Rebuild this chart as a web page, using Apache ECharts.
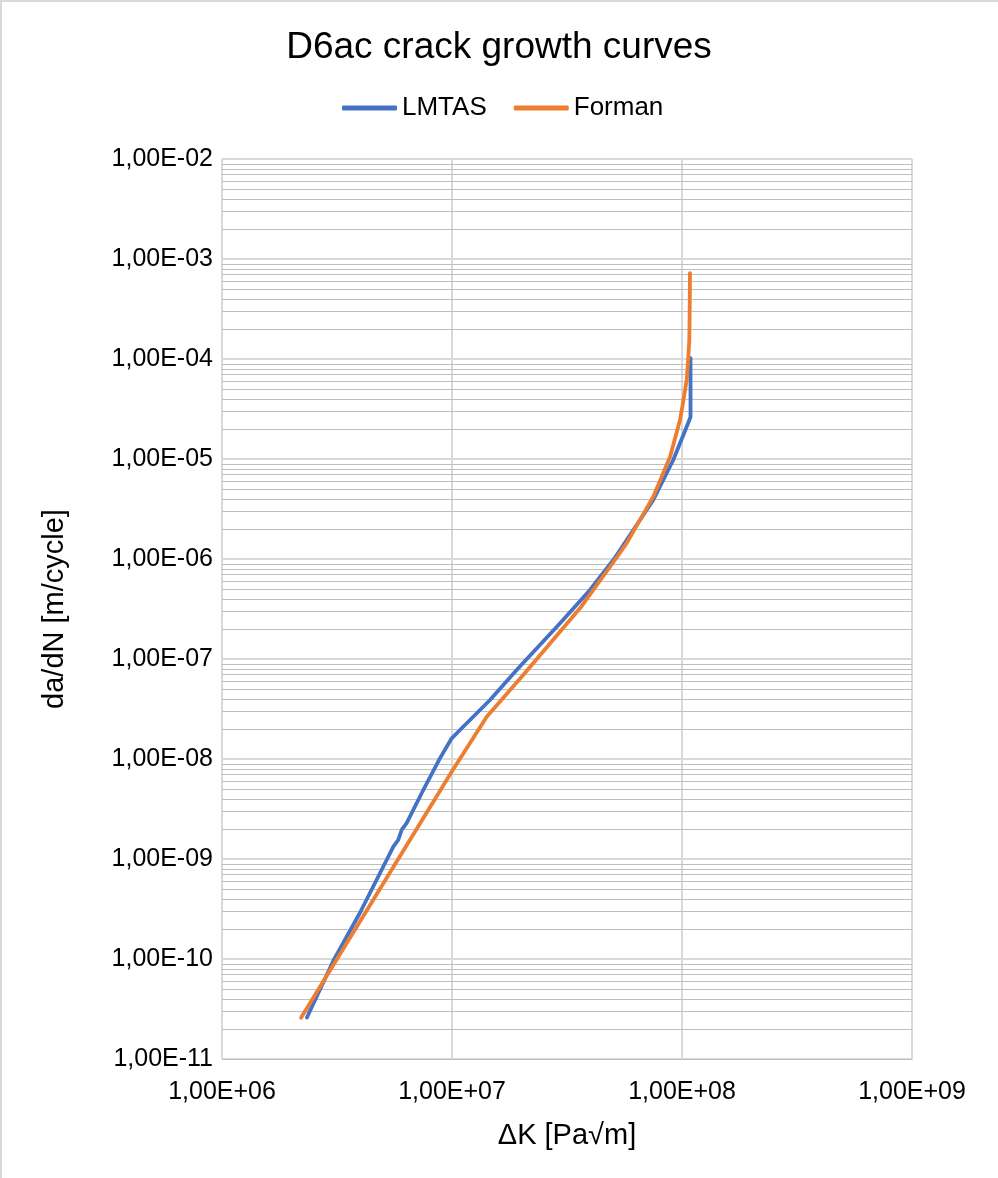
<!DOCTYPE html>
<html>
<head>
<meta charset="utf-8">
<script src="https://cdn.jsdelivr.net/npm/echarts@6/dist/echarts.min.js"></script>
<style>
html,body{margin:0;padding:0;background:#fff;}
#wrap{position:relative;width:998px;height:1178px;overflow:hidden;}
#chart{position:absolute;left:0;top:0;width:998px;height:1178px;}
#frame{position:absolute;left:0;top:0;width:1200px;height:1400px;border-left:2px solid #d9d9d9;border-top:2px solid #d9d9d9;box-sizing:border-box;pointer-events:none;}
</style>
</head>
<body>
<div id="wrap"><div id="chart"></div><div id="frame"></div></div>
<script>
// ---- data ----
const titleText = 'D6ac crack growth curves';
const seriesNames = ['LMTAS', 'Forman'];
const lmtasK = [2.34e6, 3.05e6, 3.98e6, 4.86e6, 5.56e6, 5.84e6, 6.04e6, 6.35e6, 7.50e6, 8.87e6, 9.97e6, 1.083e7, 1.463e7, 1.91e7, 2.95e7, 3.98e7, 5.03e7, 5.75e7, 7.5e7, 9.16e7, 1.048e8, 1.089e8, 1.089e8];
const lmtasRate = [2.6e-11, 9.6e-11, 2.9e-10, 7.2e-10, 1.33e-9, 1.55e-9, 1.95e-9, 2.28e-9, 4.9e-9, 1.02e-8, 1.61e-8, 1.95e-8, 3.89e-8, 7.76e-8, 2.28e-7, 4.9e-7, 9.77e-7, 1.55e-6, 3.89e-6, 9.77e-6, 2.1e-5, 2.63e-5, 1.02e-4];
const formanK = [2.206e6, 9.97e6, 1.416e7, 2.04e7, 3.60e7, 5.11e7, 5.75e7, 7.5e7, 8.87e7, 9.8e7, 1.015e8, 1.048e8, 1.063e8, 1.076e8, 1.08e8, 1.083e8];
const formanRate = [2.59e-11, 7.46e-9, 2.65e-8, 6.92e-8, 3.21e-7, 9.77e-7, 1.44e-6, 4.2e-6, 1.05e-5, 2.45e-5, 3.89e-5, 6.17e-5, 9.77e-5, 1.55e-4, 3.09e-4, 7.2e-4];
const xTickLabels = ['1,00E+06', '1,00E+07', '1,00E+08', '1,00E+09'];
const yTickLabels = ['1,00E-11', '1,00E-10', '1,00E-09', '1,00E-08', '1,00E-07', '1,00E-06', '1,00E-05', '1,00E-04', '1,00E-03', '1,00E-02'];
const xMinExp = 6, xMaxExp = 9;
const yMinExp = -11, yMaxExp = -2;
const minorSteps = [2, 3, 4, 5, 6, 7, 8, 9];
const xName = 'ΔK [Pa√m]';
const yName = 'da/dN [m/cycle]';

// ---- build ----
const FONT = 'Liberation Sans, Arial, sans-serif';
const BLUE = '#4472c4', ORANGE = '#ed7d31';
const pair = (a, b) => a.map((v, i) => [v, b[i]]);
const minorY = [];
for (let e = yMinExp; e < yMaxExp; e++) {
  minorSteps.forEach(k => minorY.push([k * Math.pow(10, e)]));
}
const xMin = Math.pow(10, xMinExp), xMax = Math.pow(10, xMaxExp);
const chart = echarts.init(document.getElementById('chart'), null, { renderer: 'canvas' });
chart.setOption({
  animation: false,
  backgroundColor: '#fff',
  title: {
    text: titleText, left: 'center', top: 29, padding: 0,
    textStyle: { fontFamily: FONT, fontSize: 37, fontWeight: 'normal', color: '#000' }
  },
  legend: {
    left: 342, top: 95, padding: 0,
    itemWidth: 55, itemHeight: 5, itemGap: 27,
    textStyle: { fontFamily: FONT, fontSize: 26, color: '#000' },
    data: [
      { name: seriesNames[0], icon: 'roundRect', itemStyle: { color: BLUE } },
      { name: seriesNames[1], icon: 'roundRect', itemStyle: { color: ORANGE } }
    ]
  },
  grid: { left: 222, right: 86, top: 159, bottom: 119, containLabel: false },
  xAxis: {
    type: 'log', logBase: 10, min: xMin, max: xMax, interval: 1,
    name: xName, nameLocation: 'middle', nameGap: 62,
    nameTextStyle: { fontFamily: FONT, fontSize: 29, color: '#000' },
    axisLine: { show: true, lineStyle: { color: '#bfbfbf', width: 1 } },
    axisTick: { show: false },
    axisLabel: {
      fontFamily: FONT, fontSize: 25, color: '#000', margin: 21,
      formatter: v => xTickLabels[Math.round(Math.log10(v)) - xMinExp]
    },
    splitLine: { show: true, lineStyle: { color: '#d9d9d9', width: 2 } }
  },
  yAxis: {
    type: 'log', logBase: 10,
    min: Math.pow(10, yMinExp), max: Math.pow(10, yMaxExp), interval: 1,
    name: yName, nameLocation: 'middle', nameGap: 153, nameRotate: 90,
    nameTextStyle: { fontFamily: FONT, fontSize: 29, color: '#000' },
    axisLine: { show: false },
    axisTick: { show: false },
    axisLabel: {
      fontFamily: FONT, fontSize: 25, color: '#000', margin: 9,
      formatter: v => yTickLabels[Math.round(Math.log10(v)) - yMinExp]
    },
    splitLine: { show: true, lineStyle: { color: '#d9d9d9', width: 2 } }
  },
  series: [
    {
      name: '__minor', type: 'custom', data: minorY, silent: true, z: 1,
      encode: { y: 0 },
      renderItem: function (params, api) {
        const v = api.value(0);
        const p1 = api.coord([xMin, v]);
        const p2 = api.coord([xMax, v]);
        return {
          type: 'line',
          shape: { x1: p1[0], y1: Math.round(p1[1]) + 0.5, x2: p2[0], y2: Math.round(p2[1]) + 0.5 },
          style: { stroke: '#bfbfbf', lineWidth: 1 },
          silent: true
        };
      }
    },
    {
      name: seriesNames[0], type: 'line', data: pair(lmtasK, lmtasRate),
      symbol: 'none', showSymbol: false, z: 3,
      itemStyle: { color: BLUE },
      lineStyle: { color: BLUE, width: 3.8, cap: 'round', join: 'round' }
    },
    {
      name: seriesNames[1], type: 'line', data: pair(formanK, formanRate),
      symbol: 'none', showSymbol: false, z: 4,
      itemStyle: { color: ORANGE },
      lineStyle: { color: ORANGE, width: 3.8, cap: 'round', join: 'round' }
    }
  ]
});
</script>
</body>
</html>
